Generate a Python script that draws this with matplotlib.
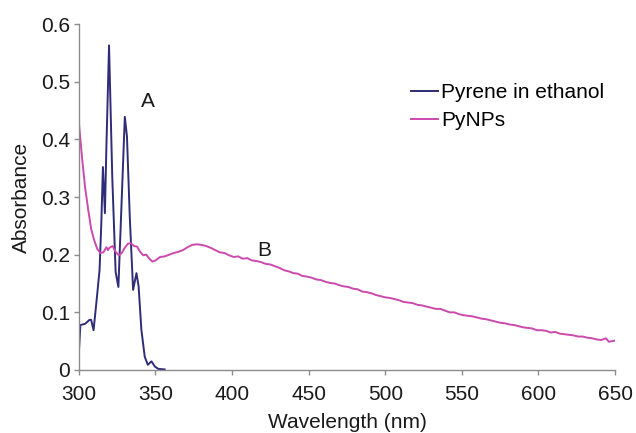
import matplotlib.pyplot as plt

plt.rcParams['font.family'] = ['Liberation Sans', 'DejaVu Sans']

# Pyrene in ethanol
pyr_wl = [300, 301, 304, 307, 308, 309.6, 311.4, 313.5, 314.6, 315.7, 317, 318, 319.7,
          321.8, 324, 325.8, 327.7, 330, 331.4, 333.2, 335.4, 337.6, 339, 340.8, 343,
          345, 347.4, 349.6, 351.8, 356]
pyr_abs = [0.03, 0.078, 0.08, 0.087, 0.087, 0.069, 0.116, 0.173, 0.25, 0.352, 0.272, 0.39, 0.563,
           0.335, 0.17, 0.144, 0.277, 0.439, 0.405, 0.268, 0.139, 0.168, 0.145, 0.07, 0.023,
           0.009, 0.015, 0.006, 0.002, 0.001]

# PyNPs
np_wl = [300, 302, 304, 306, 308, 310, 312, 314, 316, 318, 319, 320, 322, 324, 326, 328, 330,
         332, 334, 336, 338, 340, 342, 344, 346, 348, 350, 353, 356, 359, 362, 365, 368, 371,
         374, 377, 380, 383, 386, 389, 392, 395, 398, 401, 404, 407, 410, 413, 416, 419, 422,
         425, 428, 431, 434, 437, 440, 443, 446, 449, 452, 455, 458, 461, 464, 467, 470, 473,
         476, 479, 482, 485, 488, 491, 494, 497, 500, 503, 506, 509, 512, 515, 518, 521, 524,
         527, 530, 533, 536, 539, 542, 545, 548, 551, 554, 557, 560, 563, 566, 569, 572, 575,
         578, 581, 584, 587, 590, 593, 596, 599, 602, 605, 608, 611, 614, 617, 620, 623, 626,
         629, 632, 635, 638, 641, 644, 646, 648, 650]
np_abs = [0.43, 0.37, 0.318, 0.28, 0.245, 0.225, 0.21, 0.203, 0.204, 0.213, 0.208, 0.212, 0.215,
          0.205, 0.199, 0.203, 0.212, 0.219, 0.22, 0.215, 0.214, 0.205, 0.199, 0.2, 0.193, 0.188,
          0.19, 0.196, 0.197, 0.2, 0.203, 0.205, 0.208, 0.213, 0.217, 0.218, 0.217, 0.215, 0.212,
          0.208, 0.204, 0.203, 0.199, 0.196, 0.197, 0.193, 0.194, 0.19, 0.189, 0.187, 0.184,
          0.183, 0.18, 0.177, 0.173, 0.171, 0.168, 0.167, 0.163, 0.162, 0.16, 0.157, 0.156,
          0.153, 0.151, 0.15, 0.147, 0.145, 0.144, 0.141, 0.14, 0.136, 0.135, 0.133, 0.13,
          0.128, 0.126, 0.125, 0.123, 0.121, 0.118, 0.117, 0.116, 0.113, 0.112, 0.11, 0.108,
          0.106, 0.106, 0.103, 0.1, 0.1, 0.097, 0.095, 0.094, 0.093, 0.091, 0.089, 0.088,
          0.086, 0.084, 0.082, 0.081, 0.079, 0.078, 0.076, 0.074, 0.073, 0.072, 0.069, 0.069,
          0.068, 0.065, 0.066, 0.063, 0.062, 0.061, 0.06, 0.058, 0.058, 0.056, 0.055, 0.053,
          0.052, 0.055, 0.049, 0.05, 0.051]

x_ticks = [300, 350, 400, 450, 500, 550, 600, 650]
y_ticks = [0, 0.1, 0.2, 0.3, 0.4, 0.5, 0.6]
y_labels = ['0', '0.1', '0.2', '0.3', '0.4', '0.5', '0.6']

fs = 15

fig = plt.figure(figsize=(6.36, 4.33), dpi=100)
ax = fig.add_axes([0.124, 0.1455, 0.843, 0.799])

ax.plot(pyr_wl, pyr_abs, color='#2f2c78', lw=1.4, label='Pyrene in ethanol')
ax.plot(np_wl, np_abs, color='#cc4aad', lw=1.4, label='PyNPs')

ax.set_xlim(300, 650)
ax.set_ylim(0, 0.6)
ax.set_xticks(x_ticks)
ax.set_yticks(y_ticks)
ax.set_yticklabels(y_labels)

for s in ['top', 'right']:
    ax.spines[s].set_visible(False)
for s in ['left', 'bottom']:
    ax.spines[s].set_color('#8c8c8c')
    ax.spines[s].set_linewidth(1.0)
ax.tick_params(direction='out', length=3.5, width=1, color='#8c8c8c',
               labelsize=fs, labelcolor='#1a1a1a')
ax.tick_params(axis='x', pad=7)
ax.tick_params(axis='y', pad=3)

ax.set_xlabel('Wavelength (nm)', fontsize=fs, color='#1a1a1a', labelpad=7)
ax.set_ylabel('Absorbance', fontsize=fs, color='#1a1a1a', labelpad=7)

ax.text(345, 0.465, 'A', fontsize=fs, ha='center', va='center', color='#1a1a1a')
ax.text(421, 0.208, 'B', fontsize=fs, ha='center', va='center', color='#1a1a1a')

ax.legend(loc='upper left', bbox_to_anchor=(0.6, 0.86), frameon=False, fontsize=fs,
          handlelength=1.3, handletextpad=0.15, borderpad=0, labelspacing=0.45)

fig.savefig('out.png', dpi=100)
